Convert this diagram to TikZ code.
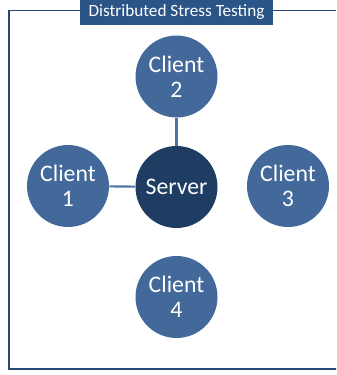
\documentclass[tikz,border=0pt]{standalone}
\usepackage{fontspec}
\setmainfont{Carlito}
\usetikzlibrary{positioning}
\definecolor{clientblue}{RGB}{67,105,154}
\definecolor{serverblue}{RGB}{31,61,99}
\definecolor{titleblue}{RGB}{43,84,135}
\definecolor{linkblue}{RGB}{78,116,166}
\definecolor{frameblue}{RGB}{38,72,118}
\tikzset{
    client/.style = {circle, fill=clientblue, inner sep=0pt, minimum size=61.5pt, align=center, text=white, font=\fontsize{17.8}{18.5}\selectfont},
    server/.style = {client, fill=serverblue},
    titlebox/.style = {rectangle, fill=titleblue, inner sep=0pt, minimum width=145pt, minimum height=18.75pt, text=white, font=\fontsize{12.9}{14}\selectfont},
    frame/.style = {draw=frameblue, line width=0.9pt},
    link/.style = {draw=linkblue, line width=1.6pt}
}

\begin{document}
\begin{tikzpicture}[x=0.75pt,y=-0.75pt]
\clip (0,0) rectangle (336,375);
\draw[frame] (9,10.5) rectangle (350,369);
\node[titlebox] at (176.5,12.5) (title) {Distributed Stress Testing};
%
\node[server] at (176.5,187) (server) {Server};
\node[client] at (176.5,76.5) (c2) {Client\\2};
\node[client] at (68,186) (c1) {Client\\1};
\node[client] at (288,186) (c3) {Client\\3};
\node[client] at (176.5,297) (c4) {Client\\4};
%
\draw[link] (c2) -- (server);
\draw[link] (c1) -- (server);
\end{tikzpicture}
\end{document}
